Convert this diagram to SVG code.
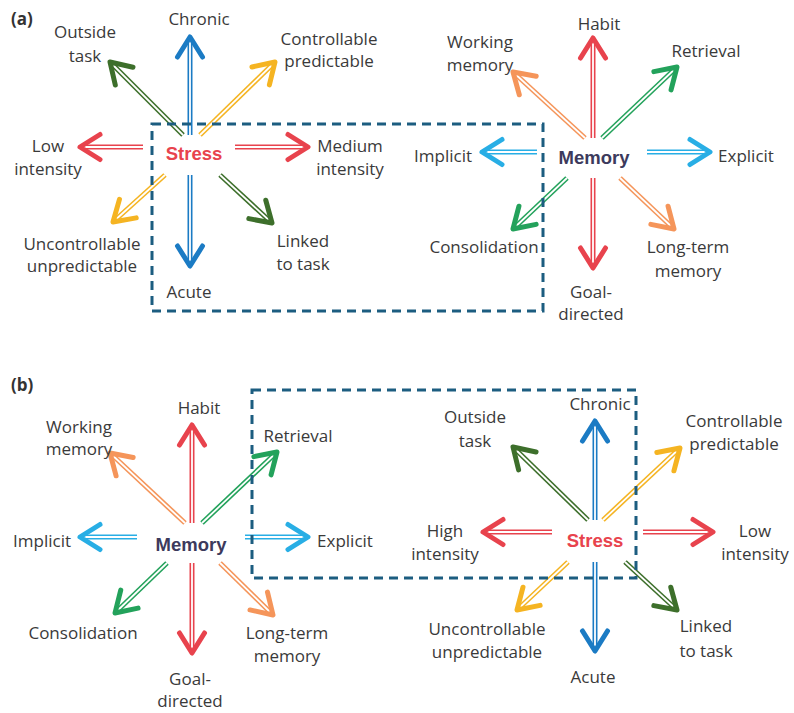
<svg xmlns="http://www.w3.org/2000/svg" width="794" height="713" viewBox="0 0 794 713">
<style>
.bg{fill:#ffffff}
.t{font-family:"Open Sans","Liberation Sans",sans-serif;font-size:17px;fill:#3a3a3a;text-anchor:middle}
.p{font-family:"Open Sans","Liberation Sans",sans-serif;font-size:17px;font-weight:bold;fill:#333333}
.stress{font-family:"Liberation Sans",Arial,sans-serif;font-size:18.5px;font-weight:bold;fill:#e8434d;text-anchor:middle}
.memory{font-family:"Liberation Sans",Arial,sans-serif;font-size:18.5px;font-weight:bold;fill:#3c3a5c;text-anchor:middle}
.o{stroke-width:5;fill:none}
.i{stroke:#ffffff;stroke-width:1.8;fill:none}
.blue .o{stroke:#1b7bc4}
.red .o{stroke:#e8434d}
.dgreen .o{stroke:#3d6f2b}
.yellow .o{stroke:#f5b422}
.lblue .o{stroke:#28aee5}
.orange .o{stroke:#f5955a}
.green .o{stroke:#23a25b}
.chev{fill:none;stroke-width:5;stroke-linecap:round;stroke-linejoin:round}
.box{fill:none;stroke:#1c5d80;stroke-width:3;stroke-dasharray:9 6}
</style>
<defs>
<marker id="h-blue" markerUnits="userSpaceOnUse" viewBox="-26 -18 30 36" markerWidth="30" markerHeight="36" refX="0" refY="0" orient="auto"><path class="chev" stroke="#1b7bc4" d="M-20,-12.5 L0,0 L-20,12.5"/></marker>
<marker id="h-red" markerUnits="userSpaceOnUse" viewBox="-26 -18 30 36" markerWidth="30" markerHeight="36" refX="0" refY="0" orient="auto"><path class="chev" stroke="#e8434d" d="M-20,-12.5 L0,0 L-20,12.5"/></marker>
<marker id="h-dgreen" markerUnits="userSpaceOnUse" viewBox="-26 -18 30 36" markerWidth="30" markerHeight="36" refX="0" refY="0" orient="auto"><path class="chev" stroke="#3d6f2b" d="M-20,-12.5 L0,0 L-20,12.5"/></marker>
<marker id="h-yellow" markerUnits="userSpaceOnUse" viewBox="-26 -18 30 36" markerWidth="30" markerHeight="36" refX="0" refY="0" orient="auto"><path class="chev" stroke="#f5b422" d="M-20,-12.5 L0,0 L-20,12.5"/></marker>
<marker id="h-lblue" markerUnits="userSpaceOnUse" viewBox="-26 -18 30 36" markerWidth="30" markerHeight="36" refX="0" refY="0" orient="auto"><path class="chev" stroke="#28aee5" d="M-20,-12.5 L0,0 L-20,12.5"/></marker>
<marker id="h-orange" markerUnits="userSpaceOnUse" viewBox="-26 -18 30 36" markerWidth="30" markerHeight="36" refX="0" refY="0" orient="auto"><path class="chev" stroke="#f5955a" d="M-20,-12.5 L0,0 L-20,12.5"/></marker>
<marker id="h-green" markerUnits="userSpaceOnUse" viewBox="-26 -18 30 36" markerWidth="30" markerHeight="36" refX="0" refY="0" orient="auto"><path class="chev" stroke="#23a25b" d="M-20,-12.5 L0,0 L-20,12.5"/></marker>
</defs>
<rect class="bg" x="0" y="0" width="794" height="713"/>

<text class="p" x="11" y="25">(a)</text>
<text class="p" x="11" y="391">(b)</text>

<g id="connectors">
  <!-- Panel (a) Stress -->
  <g class="blue"><line class="o" x1="190" y1="135" x2="190" y2="37"/><line class="i" x1="190" y1="135" x2="190" y2="37" marker-end="url(#h-blue)"/></g>
  <g class="blue"><line class="o" x1="190" y1="175" x2="190" y2="266"/><line class="i" x1="190" y1="175" x2="190" y2="266" marker-end="url(#h-blue)"/></g>
  <g class="red"><line class="o" x1="143" y1="147" x2="80" y2="147"/><line class="i" x1="143" y1="147" x2="80" y2="147" marker-end="url(#h-red)"/></g>
  <g class="red"><line class="o" x1="235" y1="147" x2="308" y2="147"/><line class="i" x1="235" y1="147" x2="308" y2="147" marker-end="url(#h-red)"/></g>
  <g class="dgreen"><line class="o" x1="183" y1="135" x2="110" y2="62"/><line class="i" x1="183" y1="135" x2="110" y2="62" marker-end="url(#h-dgreen)"/></g>
  <g class="yellow"><line class="o" x1="200" y1="135" x2="275" y2="62"/><line class="i" x1="200" y1="135" x2="275" y2="62" marker-end="url(#h-yellow)"/></g>
  <g class="yellow"><line class="o" x1="165" y1="175" x2="113" y2="222"/><line class="i" x1="165" y1="175" x2="113" y2="222" marker-end="url(#h-yellow)"/></g>
  <g class="dgreen"><line class="o" x1="220" y1="175" x2="272" y2="223"/><line class="i" x1="220" y1="175" x2="272" y2="223" marker-end="url(#h-dgreen)"/></g>
  <!-- Panel (a) Memory -->
  <g class="red"><line class="o" x1="593" y1="138" x2="593" y2="38"/><line class="i" x1="593" y1="138" x2="593" y2="38" marker-end="url(#h-red)"/></g>
  <g class="red"><line class="o" x1="593" y1="178" x2="593" y2="268"/><line class="i" x1="593" y1="178" x2="593" y2="268" marker-end="url(#h-red)"/></g>
  <g class="lblue"><line class="o" x1="537" y1="152" x2="482" y2="152"/><line class="i" x1="537" y1="152" x2="482" y2="152" marker-end="url(#h-lblue)"/></g>
  <g class="lblue"><line class="o" x1="647" y1="152" x2="710" y2="152"/><line class="i" x1="647" y1="152" x2="710" y2="152" marker-end="url(#h-lblue)"/></g>
  <g class="orange"><line class="o" x1="585" y1="138" x2="513" y2="72"/><line class="i" x1="585" y1="138" x2="513" y2="72" marker-end="url(#h-orange)"/></g>
  <g class="green"><line class="o" x1="602" y1="138" x2="677" y2="67"/><line class="i" x1="602" y1="138" x2="677" y2="67" marker-end="url(#h-green)"/></g>
  <g class="green"><line class="o" x1="567" y1="178" x2="513" y2="229"/><line class="i" x1="567" y1="178" x2="513" y2="229" marker-end="url(#h-green)"/></g>
  <g class="orange"><line class="o" x1="620" y1="178" x2="674" y2="229"/><line class="i" x1="620" y1="178" x2="674" y2="229" marker-end="url(#h-orange)"/></g>
  <!-- Panel (b) Memory -->
  <g class="red"><line class="o" x1="192" y1="523" x2="192" y2="425"/><line class="i" x1="192" y1="523" x2="192" y2="425" marker-end="url(#h-red)"/></g>
  <g class="red"><line class="o" x1="192" y1="563" x2="192" y2="653"/><line class="i" x1="192" y1="563" x2="192" y2="653" marker-end="url(#h-red)"/></g>
  <g class="lblue"><line class="o" x1="137" y1="537" x2="80" y2="537"/><line class="i" x1="137" y1="537" x2="80" y2="537" marker-end="url(#h-lblue)"/></g>
  <g class="lblue"><line class="o" x1="245" y1="537" x2="308" y2="537"/><line class="i" x1="245" y1="537" x2="308" y2="537" marker-end="url(#h-lblue)"/></g>
  <g class="orange"><line class="o" x1="185" y1="523" x2="110" y2="453"/><line class="i" x1="185" y1="523" x2="110" y2="453" marker-end="url(#h-orange)"/></g>
  <g class="green"><line class="o" x1="202" y1="523" x2="277" y2="452"/><line class="i" x1="202" y1="523" x2="277" y2="452" marker-end="url(#h-green)"/></g>
  <g class="green"><line class="o" x1="167" y1="563" x2="115" y2="613"/><line class="i" x1="167" y1="563" x2="115" y2="613" marker-end="url(#h-green)"/></g>
  <g class="orange"><line class="o" x1="220" y1="563" x2="273" y2="615"/><line class="i" x1="220" y1="563" x2="273" y2="615" marker-end="url(#h-orange)"/></g>
  <!-- Panel (b) Stress -->
  <g class="blue"><line class="o" x1="595" y1="520" x2="595" y2="421"/><line class="i" x1="595" y1="520" x2="595" y2="421" marker-end="url(#h-blue)"/></g>
  <g class="blue"><line class="o" x1="595" y1="562" x2="595" y2="651"/><line class="i" x1="595" y1="562" x2="595" y2="651" marker-end="url(#h-blue)"/></g>
  <g class="red"><line class="o" x1="552" y1="532" x2="483" y2="532"/><line class="i" x1="552" y1="532" x2="483" y2="532" marker-end="url(#h-red)"/></g>
  <g class="red"><line class="o" x1="643" y1="532" x2="713" y2="532"/><line class="i" x1="643" y1="532" x2="713" y2="532" marker-end="url(#h-red)"/></g>
  <g class="dgreen"><line class="o" x1="588" y1="520" x2="513" y2="447"/><line class="i" x1="588" y1="520" x2="513" y2="447" marker-end="url(#h-dgreen)"/></g>
  <g class="yellow"><line class="o" x1="603" y1="520" x2="680" y2="448"/><line class="i" x1="603" y1="520" x2="680" y2="448" marker-end="url(#h-yellow)"/></g>
  <g class="yellow"><line class="o" x1="568" y1="562" x2="517" y2="610"/><line class="i" x1="568" y1="562" x2="517" y2="610" marker-end="url(#h-yellow)"/></g>
  <g class="dgreen"><line class="o" x1="625" y1="562" x2="677" y2="610"/><line class="i" x1="625" y1="562" x2="677" y2="610" marker-end="url(#h-dgreen)"/></g>
</g>

<g id="box-a"><rect class="box" x="152" y="124" width="391" height="187"/></g>
<g id="box-b"><rect class="box" x="252" y="390" width="384" height="188"/></g>

<g id="a-stress"><text class="stress" x="194" y="160">Stress</text></g>
<g id="a-chronic"><text class="t" x="199" y="25">Chronic</text></g>
<g id="a-acute"><text class="t" x="189" y="298">Acute</text></g>
<g id="a-outside"><text class="t" x="85" y="38">Outside</text><text class="t" x="85" y="62">task</text></g>
<g id="a-controllable"><text class="t" x="329" y="45">Controllable</text><text class="t" x="329" y="67">predictable</text></g>
<g id="a-low"><text class="t" x="48" y="152">Low</text><text class="t" x="48" y="175">intensity</text></g>
<g id="a-medium"><text class="t" x="350" y="152">Medium</text><text class="t" x="350" y="175">intensity</text></g>
<g id="a-uncontrollable"><text class="t" x="82" y="250">Uncontrollable</text><text class="t" x="82" y="272">unpredictable</text></g>
<g id="a-linked"><text class="t" x="303" y="247">Linked</text><text class="t" x="303" y="270">to task</text></g>

<g id="a-memory"><text class="memory" x="594" y="164">Memory</text></g>
<g id="a-habit"><text class="t" x="599" y="30">Habit</text></g>
<g id="a-goal"><text class="t" x="591" y="298">Goal-</text><text class="t" x="591" y="320">directed</text></g>
<g id="a-implicit"><text class="t" x="443" y="162">Implicit</text></g>
<g id="a-explicit"><text class="t" x="746" y="162">Explicit</text></g>
<g id="a-working"><text class="t" x="480" y="48">Working</text><text class="t" x="480" y="71">memory</text></g>
<g id="a-retrieval"><text class="t" x="706" y="57">Retrieval</text></g>
<g id="a-consolidation"><text class="t" x="484" y="253">Consolidation</text></g>
<g id="a-longterm"><text class="t" x="688" y="253">Long-term</text><text class="t" x="688" y="277">memory</text></g>

<g id="b-memory"><text class="memory" x="191" y="551">Memory</text></g>
<g id="b-habit"><text class="t" x="199" y="414">Habit</text></g>
<g id="b-goal"><text class="t" x="190" y="685">Goal-</text><text class="t" x="190" y="707">directed</text></g>
<g id="b-implicit"><text class="t" x="42" y="547">Implicit</text></g>
<g id="b-explicit"><text class="t" x="345" y="547">Explicit</text></g>
<g id="b-working"><text class="t" x="79" y="433">Working</text><text class="t" x="79" y="455">memory</text></g>
<g id="b-retrieval"><text class="t" x="298" y="442">Retrieval</text></g>
<g id="b-consolidation"><text class="t" x="83" y="639">Consolidation</text></g>
<g id="b-longterm"><text class="t" x="287" y="639">Long-term</text><text class="t" x="287" y="662">memory</text></g>

<g id="b-stress"><text class="stress" x="595" y="547">Stress</text></g>
<g id="b-chronic"><text class="t" x="600" y="410">Chronic</text></g>
<g id="b-acute"><text class="t" x="593" y="683">Acute</text></g>
<g id="b-outside"><text class="t" x="475" y="423">Outside</text><text class="t" x="475" y="447">task</text></g>
<g id="b-controllable"><text class="t" x="734" y="427">Controllable</text><text class="t" x="734" y="450">predictable</text></g>
<g id="b-high"><text class="t" x="445" y="537">High</text><text class="t" x="445" y="560">intensity</text></g>
<g id="b-low"><text class="t" x="755" y="537">Low</text><text class="t" x="755" y="560">intensity</text></g>
<g id="b-uncontrollable"><text class="t" x="487" y="635">Uncontrollable</text><text class="t" x="487" y="658">unpredictable</text></g>
<g id="b-linked"><text class="t" x="706" y="632">Linked</text><text class="t" x="706" y="657">to task</text></g>
</svg>
